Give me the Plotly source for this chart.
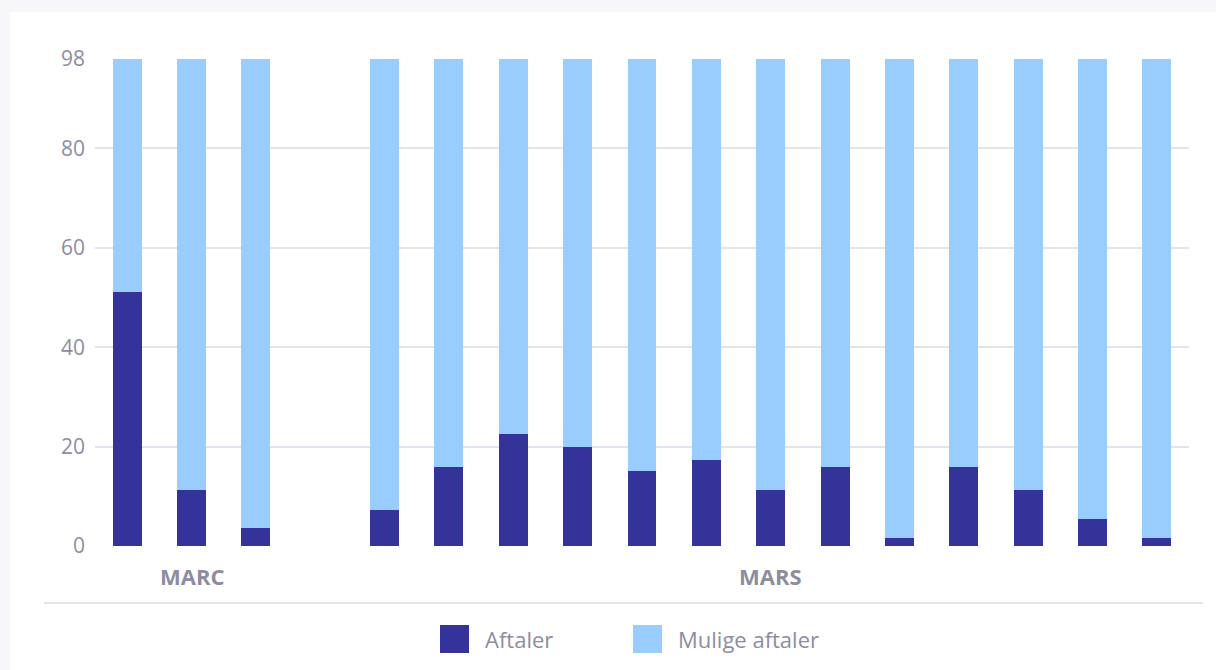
import plotly.graph_objects as go

# ---- data ----
groups = ["MARC"] * 3 + ["MARS"] * 13
categories = ["MARC-1", "MARC-2", "MARC-3",
              "MARS-1", "MARS-2", "MARS-3", "MARS-4", "MARS-5", "MARS-6", "MARS-7",
              "MARS-8", "MARS-9", "MARS-10", "MARS-11", "MARS-12", "MARS-13"]
aftaler = [51.2, 11.2, 3.6,
           7.25, 15.85, 22.5, 19.9, 15.05, 17.3, 11.2, 15.85, 1.55, 15.85, 11.2, 5.4, 1.55]
mulige_aftaler = [46.8, 86.8, 94.4,
                  90.75, 82.15, 75.5, 78.1, 82.95, 80.7, 86.8, 82.15, 96.45, 82.15, 86.8, 92.6, 96.45]
y_ticks = [0, 20, 40, 60, 80, 98]
series_names = ["Aftaler", "Mulige aftaler"]

DARK = "#343399"
LIGHT = "#99ccff"
TEXT = "#8e8d9f"
GRID = "#e4e3ef"
PAGE = "#f7f7fb"
FONT = "Open Sans"

# category order with an empty spacer slot between the groups
spacer = " "
cat_order = []
prev = None
for g, c in zip(groups, categories):
    if prev is not None and g != prev:
        cat_order.append(spacer)
    cat_order.append(c)
    prev = g

fig = go.Figure()
fig.add_trace(go.Bar(x=categories, y=aftaler, name=series_names[0],
                     marker=dict(color=DARK, line=dict(width=0)), showlegend=False))
fig.add_trace(go.Bar(x=categories, y=mulige_aftaler, name=series_names[1],
                     marker=dict(color=LIGHT, line=dict(width=0)), showlegend=False))

W, H = 1216, 670
L, R, T, B = 95, 27, 59, 124
pw, ph = W - L - R, H - T - B


def px(xp):
    return (xp - L) / pw


def py(yp):
    return (H - B - yp) / ph


shapes = [
    # white card
    dict(type="rect", xref="paper", yref="paper", x0=px(10), x1=px(1230), y0=py(12), y1=py(700),
         fillcolor="white", line=dict(width=0), layer="below"),
    # separator line
    dict(type="line", xref="paper", yref="paper", x0=px(44), x1=px(1203), y0=py(603), y1=py(603),
         line=dict(color=GRID, width=2)),
    # legend squares
    dict(type="rect", xref="paper", yref="paper", x0=px(440), x1=px(469), y0=py(625), y1=py(653),
         fillcolor=DARK, line=dict(width=0)),
    dict(type="rect", xref="paper", yref="paper", x0=px(633), x1=px(662), y0=py(625), y1=py(653),
         fillcolor=LIGHT, line=dict(width=0)),
]

annotations = []
# group labels centred under each group
for g in dict.fromkeys(groups):
    idx = [cat_order.index(c) for c, gg in zip(categories, groups) if gg == g]
    annotations.append(dict(x=sum(idx) / len(idx), y=py(576), xref="x", yref="paper",
                            text=f"<b>{g}</b>", showarrow=False, yanchor="middle",
                            font=dict(family=FONT, size=22, color=TEXT)))
# legend texts
for name, xl in zip(series_names, [483, 676]):
    annotations.append(dict(x=px(xl), y=py(639), xref="paper", yref="paper", text=name,
                            showarrow=False, xanchor="left", yanchor="middle",
                            font=dict(family=FONT, size=22, color=TEXT)))

fig.update_layout(
    width=W, height=H,
    barmode="stack", bargap=0.55,
    margin=dict(l=L, r=R, t=T, b=B),
    paper_bgcolor=PAGE, plot_bgcolor="white",
    font=dict(family=FONT, color=TEXT),
    shapes=shapes, annotations=annotations,
    xaxis=dict(type="category", categoryorder="array", categoryarray=cat_order,
               range=[-0.5, len(cat_order) - 0.5], showticklabels=False, showgrid=False,
               zeroline=False, showline=False, ticks=""),
    yaxis=dict(range=[0, 98], tickvals=y_ticks, showgrid=True, gridcolor=GRID, gridwidth=1.5,
               zeroline=False, showline=False, ticks="", ticklabelstandoff=9,
               tickfont=dict(family=FONT, size=21, color=TEXT)),
    showlegend=False,
)

fig.write_html("out.html", config={"displayModeBar": False},
               post_script="document.body.style.margin='0';document.body.style.background='%s';" % PAGE)
